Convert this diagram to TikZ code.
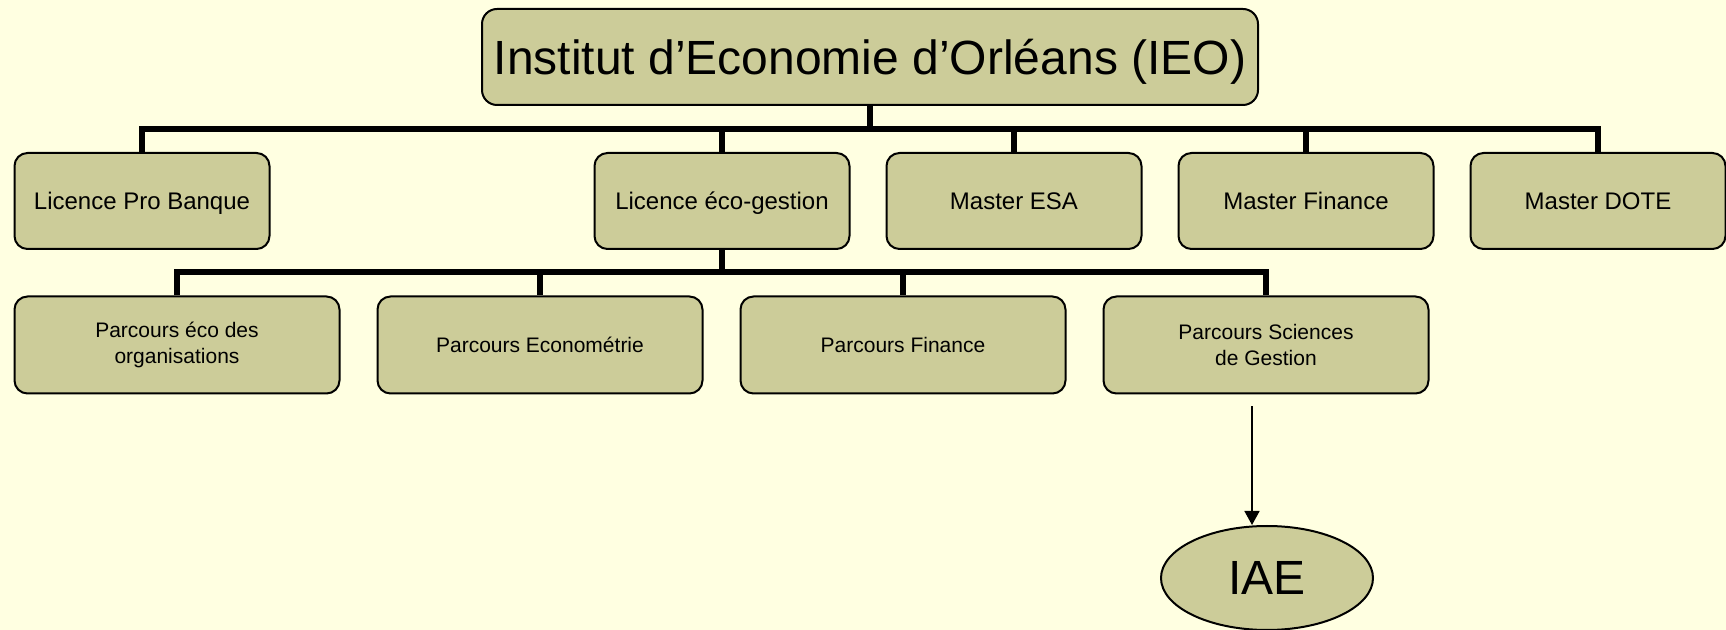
\documentclass[tikz,border=0pt]{standalone}
\usepackage{fontspec}
\setmainfont{Liberation Sans}
\usepackage{tikz}
\usetikzlibrary{shapes.geometric, arrows.meta}
\definecolor{fond}{RGB}{255,255,225}
\definecolor{kaki}{RGB}{204,204,153}
\begin{document}
\begin{tikzpicture}[x=0.5pt, y=-0.5pt,
		boite/.style={draw, line width=1pt, fill=kaki, rounded corners=6.5pt, inner sep=0pt, align=center},
		titre/.style={boite, rounded corners=7.5pt, minimum width=388pt, minimum height=48pt, text height=21.6pt, text depth=4.4pt, font=\fontsize{24}{29}\selectfont},
		diplome/.style={boite, minimum width=127.5pt, minimum height=48pt, text height=10.8pt, text depth=2.2pt, font=\fontsize{12}{14.4}\selectfont},
		parcours/.style={boite, minimum width=162.5pt, minimum height=48.5pt, font=\fontsize{10.5}{12.8}\selectfont},
		lien/.style={line width=2.7pt},
		fleche/.style={line width=0.8pt, -{Triangle[length=7pt, width=7.5pt]}}]
			\fill[fond] (0,0) rectangle (1726,630);
			\useasboundingbox (0,0) rectangle (1726,630);
			\node[titre] (ieo) at (870,57) {Institut d’Economie d’Orléans (IEO)};
			\node[diplome] (lpb) at (142,201) {Licence Pro Banque};
			\node[diplome] (leg) at (722,201) {Licence éco-gestion};
			\node[diplome] (esa) at (1014,201) {Master ESA};
			\node[diplome] (mfi) at (1306,201) {Master Finance};
			\node[diplome] (dote) at (1598,201) {Master DOTE};
			\node[parcours] (peo) at (177,345) {Parcours éco des\\organisations};
			\node[parcours] (pec) at (540,345) {Parcours Econométrie};
			\node[parcours] (pfi) at (903,345) {Parcours Finance};
			\node[parcours] (psg) at (1266,345) {Parcours Sciences\\de Gestion};
			\node[draw, ellipse, line width=1pt, fill=kaki, inner sep=0pt, minimum width=106pt, minimum height=52pt, font=\fontsize{24}{29}\selectfont] (iae) at (1267,578) {IAE};
			\coordinate (bus1) at (ieo.south |- 0,129);
			\coordinate (bus2) at (leg.south |- 0,272);
			\draw[lien] (ieo.south) -- (bus1);
			\draw[lien] (bus1) -| (lpb.north);
			\draw[lien] (bus1) -| (leg.north);
			\draw[lien] (bus1) -| (esa.north);
			\draw[lien] (bus1) -| (mfi.north);
			\draw[lien] (bus1) -| (dote.north);
			\draw[lien] (leg.south) -- (bus2);
			\draw[lien] (bus2) -| (peo.north);
			\draw[lien] (bus2) -| (pec.north);
			\draw[lien] (bus2) -| (pfi.north);
			\draw[lien] (bus2) -| (psg.north);
			\coordinate (dep) at ([shift={(-14,12)}]psg.south);
			\draw[fleche] (dep) -- (dep |- iae.north);
		\end{tikzpicture}
\end{document}
